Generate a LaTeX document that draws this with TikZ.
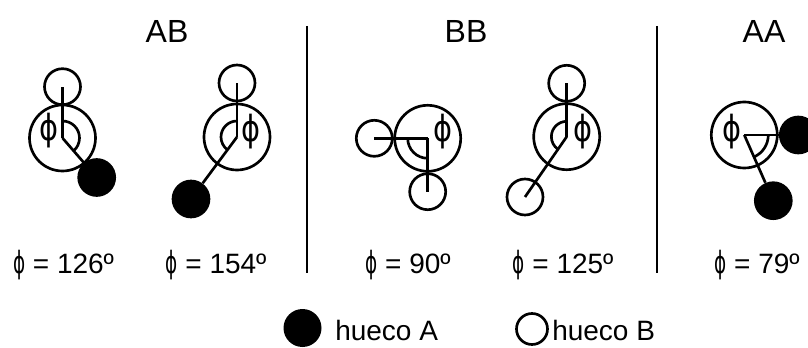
\documentclass[tikz,border=0pt]{standalone}
\usepackage{fontspec}
\setmainfont{Liberation Sans}
\newfontfamily\phifont[FakeStretch=0.8]{DejaVu Sans}
\newfontfamily\phinarrow[FakeStretch=0.6]{DejaVu Sans}
\begin{document}
\begin{tikzpicture}[x=0.75pt,y=0.75pt,
  ln/.style={line width=2pt},
  big/.style={circle,draw,line width=2pt,minimum size=49.5pt,inner sep=0pt},
  holeB/.style={circle,draw,line width=2pt,minimum size=27pt,inner sep=0pt},
  holeA/.style={circle,fill=black,minimum size=29pt,inner sep=0pt},
  philbl/.style={font=\phifont\fontsize{27}{30}\selectfont,inner sep=0pt},
  val/.style={font=\fontsize{21}{24}\selectfont,anchor=base,inner sep=0pt},
  ttl/.style={font=\fontsize{24}{28}\selectfont,anchor=base,inner sep=0pt},
  leg/.style={font=\fontsize{21}{24}\selectfont,anchor=base west,inner sep=0pt}]
\newcommand\valphi{{\phinarrow\fontsize{23}{26}\selectfont ϕ}}
\useasboundingbox (0,0) rectangle (808,347);
% titles
\node[ttl] (tAB) at (167,304) {AB};
\node[ttl] (tBB) at (466,304) {BB};
\node[ttl] (tAA) at (764,304) {AA};
% dividers
\coordinate (d1a) at (307,321); \coordinate (d1b) at (307,74);
\coordinate (d2a) at (657,321); \coordinate (d2b) at (657,74);
\draw[line width=1.5pt] (d1a) -- (d1b);
\draw[line width=1.5pt] (d2a) -- (d2b);
% ---- diagram 1 (AB, 126)
\node[big] (c1) at (62.5,209) {};
\node[holeB] (b1) at (62.5,260.3) {};
\node[holeA] (a1) at (96.7,169.5) {};
\draw[ln] (c1.center) -- (b1.center);
\draw[ln] (c1.center) -- (a1);
\draw[ln] (c1.center) ++(90:12.75pt) arc[start angle=90,end angle=-49.1,radius=12.75pt];
\node[philbl] (f1) at (49,216) {ϕ};
% ---- diagram 2 (AB, 154)
\node[big] (c2) at (237,210) {};
\node[holeB] (b2) at (237,264) {};
\node[holeA] (a2) at (191,148) {};
\draw[ln] (c2.center) -- (b2.center);
\draw[ln] (c2.center) -- (a2);
\draw[ln] (c2.center) ++(90:12pt) arc[start angle=90,end angle=233.4,radius=12pt];
\node[philbl] (f2) at (251,215) {ϕ};
% ---- diagram 3 (BB, 90)
\node[big] (c3) at (427.7,208.7) {};
\node[holeB] (b3a) at (374.3,208.7) {};
\node[holeB] (b3b) at (427.7,155.3) {};
\draw[ln] (c3.center) -- (b3a.center);
\draw[ln] (c3.center) -- (b3b.center);
\draw[ln] (c3.center) ++(180:15pt) arc[start angle=180,end angle=270,radius=15pt];
\node[philbl] (f3) at (442.5,215.3) {ϕ};
% ---- diagram 4 (BB, 125)
\node[big] (c4) at (566.7,210.3) {};
\node[holeB] (b4a) at (566.7,263.7) {};
\node[holeB] (b4b) at (525,150) {};
\draw[ln] (c4.center) -- (b4a.center);
\draw[ln] (c4.center) -- (b4b.center);
\draw[ln] (c4.center) ++(90:11.5pt) arc[start angle=90,end angle=235.3,radius=11.5pt];
\node[philbl] (f4) at (582.5,215.3) {ϕ};
% ---- diagram 5 (AA, 79)
\node[big] (c5) at (744.3,212) {};
\node[holeA] (a5a) at (798.3,212) {};
\node[holeA] (a5b) at (773.3,146.3) {};
\draw[ln] (c5.center) -- (a5a);
\draw[ln] (c5.center) -- (a5b);
\draw[ln] (c5.center) ++(0:18pt) arc[start angle=0,end angle=-66.2,radius=18pt];
\node[philbl] (f5) at (732,215.3) {ϕ};
% values
\node[val] (v1) at (63.5,74) {\valphi{} = 126º};
\node[val] (v2) at (216,74) {\valphi{} = 154º};
\node[val] (v3) at (408,74) {\valphi{} = 90º};
\node[val] (v4) at (563,74) {\valphi{} = 125º};
\node[val] (v5) at (757,74) {\valphi{} = 79º};
% legend
\node[circle,fill=black,minimum size=28.5pt,inner sep=0pt] (lA) at (302.5,19) {};
\node[leg] (tA) at (335,7) {hueco A};
\node[circle,draw,line width=2pt,minimum size=23.25pt,inner sep=0pt] (lB) at (532,18) {};
\node[leg] (tB) at (552,7) {hueco B};
\end{tikzpicture}
\end{document}
